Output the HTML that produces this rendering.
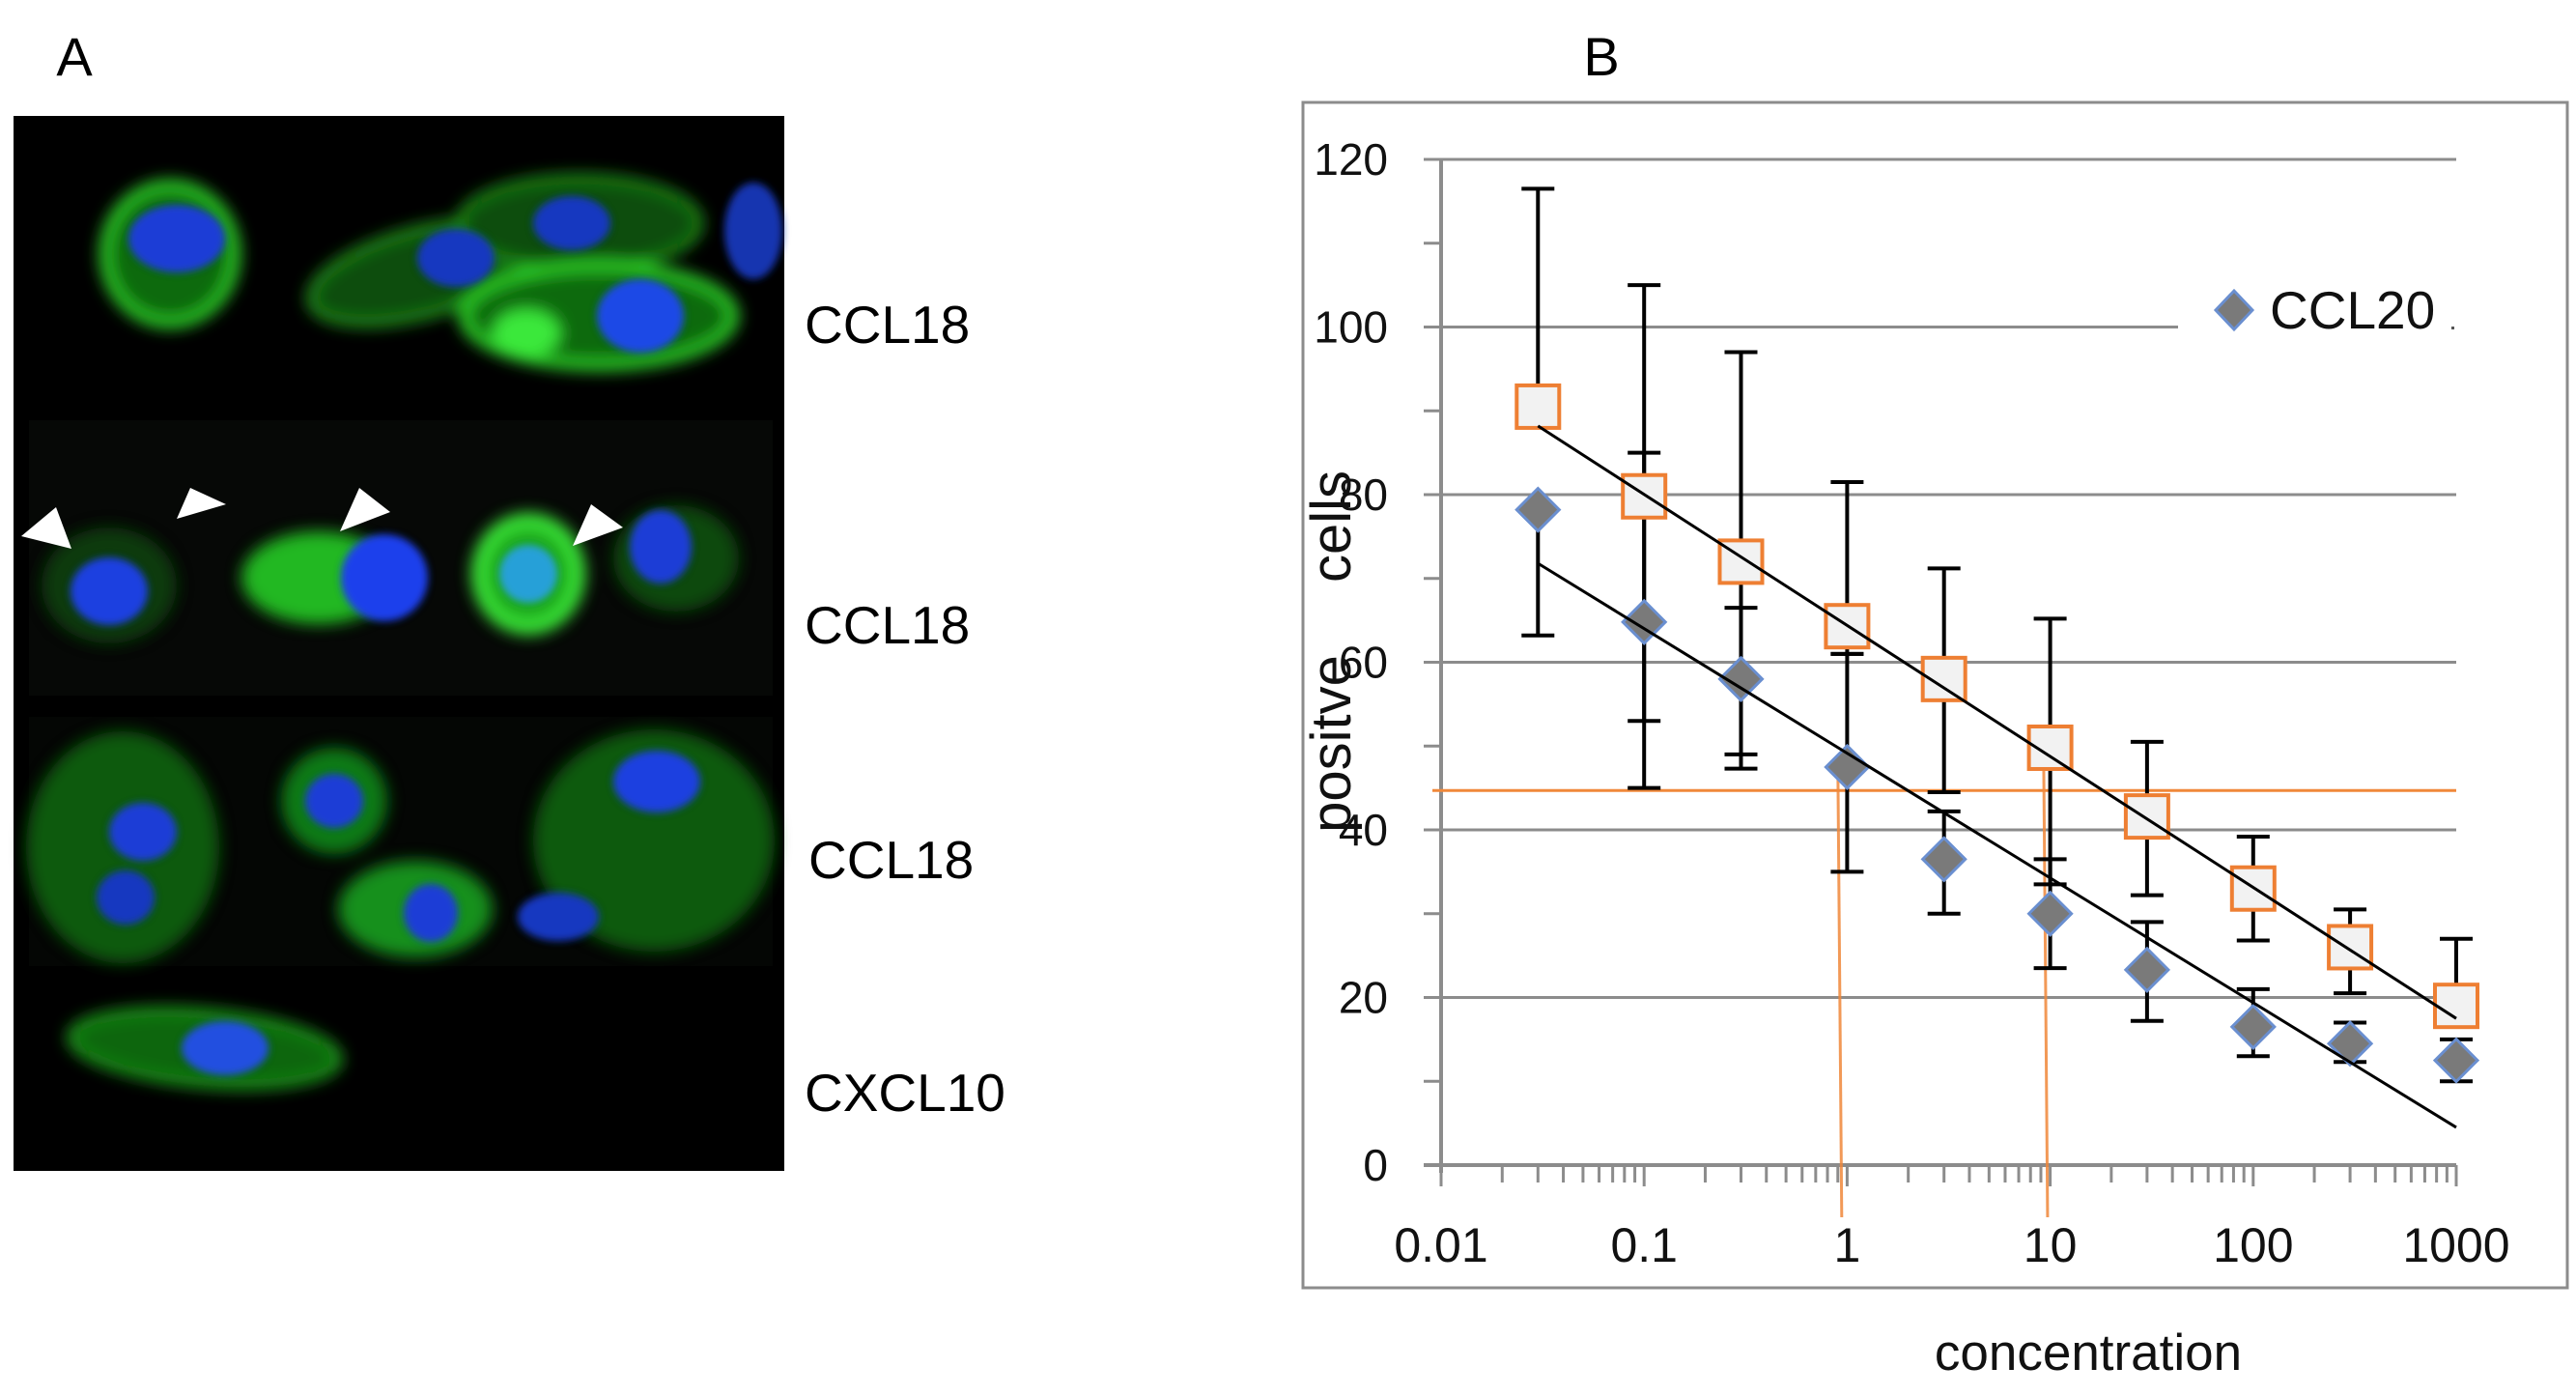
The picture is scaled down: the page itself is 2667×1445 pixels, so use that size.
<!DOCTYPE html>
<html><head><meta charset="utf-8"><style>
html,body{margin:0;padding:0;background:#fff;}
svg{display:block;font-family:"Liberation Sans",Arial,sans-serif;}
</style></head><body>
<svg id="fig" width="2667" height="1445" viewBox="0 0 2667 1445" xmlns="http://www.w3.org/2000/svg">
<defs>
<filter id="blur8" x="-50%" y="-50%" width="200%" height="200%"><feGaussianBlur stdDeviation="8"/></filter>
<filter id="blur4" x="-50%" y="-50%" width="200%" height="200%"><feGaussianBlur stdDeviation="4"/></filter>
</defs>
<text x="77" y="78" font-size="56" text-anchor="middle">A</text>
<text x="1658" y="78" font-size="56" text-anchor="middle">B</text>

<g>
<rect x="14" y="120" width="798" height="1092" fill="#000"/>
<rect x="30" y="435" width="770" height="285" fill="#060806"/>
<rect x="30" y="742" width="770" height="258" fill="#040604"/>
<g filter="url(#blur8)">
<ellipse cx="176" cy="263" rx="68" ry="72" fill="#0d6a10" stroke="#2ed82a" stroke-width="10"/>
<ellipse cx="437" cy="282" rx="120" ry="45" fill="#0b4e0c" stroke="#25a820" stroke-width="6" transform="rotate(-15 437 282)"/>
<ellipse cx="600" cy="231" rx="125" ry="48" fill="#0b4e0c" stroke="#22a01e" stroke-width="6"/>
<ellipse cx="620" cy="327" rx="140" ry="52" fill="#0e6a10" stroke="#2ed82a" stroke-width="10"/>
<ellipse cx="545" cy="345" rx="35" ry="25" fill="#3ae83a"/>
<ellipse cx="113" cy="606" rx="70" ry="60" fill="#0a3a0a"/>
<ellipse cx="330" cy="598" rx="80" ry="48" fill="#22b820"/>
<ellipse cx="547" cy="594" rx="52" ry="56" fill="#1ea81c" stroke="#3ef03a" stroke-width="14"/>
<ellipse cx="700" cy="578" rx="65" ry="55" fill="#0c4a0c"/>
<ellipse cx="127" cy="877" rx="100" ry="120" fill="#0c5a0e"/>
<ellipse cx="346" cy="829" rx="55" ry="55" fill="#117a13"/>
<ellipse cx="430" cy="941" rx="80" ry="50" fill="#14901a"/>
<ellipse cx="677" cy="870" rx="125" ry="115" fill="#0c5a0e"/>
<ellipse cx="212" cy="1085" rx="140" ry="38" fill="#0e6610" stroke="#24b020" stroke-width="6" transform="rotate(5 212 1085)"/>
</g>
<g filter="url(#blur4)">
<ellipse cx="183" cy="247" rx="50" ry="35" fill="#1c3ed6"/>
<ellipse cx="472" cy="267" rx="40" ry="30" fill="#1838c0"/>
<ellipse cx="592" cy="231" rx="40" ry="28" fill="#1838c0"/>
<ellipse cx="663" cy="327" rx="45" ry="38" fill="#1e48e6"/>
<ellipse cx="780" cy="239" rx="30" ry="50" fill="#1636b0"/>
<ellipse cx="113" cy="612" rx="40" ry="35" fill="#1e40e0"/>
<ellipse cx="398" cy="598" rx="45" ry="45" fill="#1e40ec"/>
<ellipse cx="547" cy="594" rx="30" ry="30" fill="#28a0d8"/>
<ellipse cx="684" cy="566" rx="32" ry="38" fill="#1c3ed6"/>
<ellipse cx="148" cy="861" rx="35" ry="30" fill="#1c3ed6"/>
<ellipse cx="130" cy="929" rx="30" ry="28" fill="#1838c0"/>
<ellipse cx="346" cy="829" rx="30" ry="28" fill="#1c3ed6"/>
<ellipse cx="446" cy="945" rx="28" ry="30" fill="#1c3ed6"/>
<ellipse cx="680" cy="809" rx="45" ry="32" fill="#1e40e0"/>
<ellipse cx="578" cy="949" rx="42" ry="25" fill="#1838c0"/>
<ellipse cx="233" cy="1085" rx="45" ry="28" fill="#2050e0"/>
</g>
<polygon points="22,555 58,525 74,568" fill="#fff"/>
<polygon points="183,537 197,505 234,522" fill="#fff"/>
<polygon points="352,550 372,505 404,530" fill="#fff"/>
<polygon points="593,565 612,522 645,546" fill="#fff"/>
</g>
<text x="833" y="355" font-size="55">CCL18</text>
<text x="833" y="666" font-size="55">CCL18</text>
<text x="837" y="909" font-size="55">CCL18</text>
<text x="833" y="1150" font-size="55">CXCL10</text>

<rect x="1349" y="106" width="1309" height="1227" fill="#fff" stroke="#8c8c8c" stroke-width="3"/>
<g id="chart"></g>
</svg>
<script>
const xVals = [0.03, 0.1, 0.3, 1, 3, 10, 30, 100, 300, 1000];
const squareVals = [90.5, 79.8, 72, 64.3, 58, 49.8, 41.6, 33, 26, 19];
const squareHi = [116.5, 105, 97, 81.5, 71.2, 65.2, 50.5, 39.2, 30.5, 27];
const squareLo = [90.5, 45, 49, 61, 44.5, 33.5, 32.2, 26.8, 20.5, 19];
const diamondVals = [78.2, 64.8, 58, 47.5, 36.5, 30, 23.3, 16.5, 14.5, 12.5];
const diamondHi = [78.2, 85, 66.5, 61, 42.2, 36.5, 29, 21, 17, 15];
const diamondLo = [63.2, 53, 47.3, 35, 30, 23.5, 17.2, 13, 12.3, 10];
const squareTrend = [88.2, 17.5];
const diamondTrend = [71.8, 4.5];
const trendX = [0.03, 1000];
const threshold = [44.7];
const dropX = [0.92, 9.5];
const yTicks = [0, 20, 40, 60, 80, 100, 120];
const xTicks = [0.01, 0.1, 1, 10, 100, 1000];
const xTickLabels = ["0.01", "0.1", "1", "10", "100", "1000"];

const NS = "http://www.w3.org/2000/svg";
const g = document.getElementById("chart");
const X0 = 1492, X1 = 2543, Y0 = 1206, Y1 = 165;
function sx(v){ return X0 + (Math.log10(v) + 2) / 5 * (X1 - X0); }
function sy(v){ return Y0 - v / 120 * (Y0 - Y1); }
function mk(tag, attrs, parent){
  const e = document.createElementNS(NS, tag);
  for (const k in attrs) e.setAttribute(k, attrs[k]);
  (parent || g).appendChild(e);
  return e;
}
yTicks.forEach(function(t, i){
  if (t > 0) {
    const x2 = (t === 100) ? 2255 : X1;
    const l = mk("line", {x1: X0 - 18, y1: sy(t), x2: x2, y2: sy(t), stroke: "#8c8c8c", "stroke-width": 3});
    
    
  }
  const tx = mk("text", {x: 1437, y: sy(t) + 16, "font-size": 46, "text-anchor": "end", fill: "#111"});
  tx.textContent = String(t);
  
  
  if (i < yTicks.length - 1) {
    const m = mk("line", {x1: X0 - 18, y1: sy(t + 10), x2: X0, y2: sy(t + 10), stroke: "#8c8c8c", "stroke-width": 3});
    
    
  }
});
const ya = mk("line", {x1: X0, y1: Y1, x2: X0, y2: Y0 + 8, stroke: "#8c8c8c", "stroke-width": 4});


const xa = mk("line", {x1: X0 - 18, y1: Y0, x2: X1, y2: Y0, stroke: "#8c8c8c", "stroke-width": 4});


for (let d = 0; d < 5; d++) {
  for (let k = 2; k <= 9; k++) {
    const v = Math.pow(10, d - 2) * k;
    const t = mk("line", {x1: sx(v), y1: Y0, x2: sx(v), y2: Y0 + 18, stroke: "#8c8c8c", "stroke-width": 3});
    
    
  }
}
xTicks.forEach(function(v, i){
  const t = mk("line", {x1: sx(v), y1: Y0, x2: sx(v), y2: Y0 + 22, stroke: "#8c8c8c", "stroke-width": 3});
  
  
  const tx = mk("text", {x: sx(v), y: 1306, "font-size": 50, "text-anchor": "middle", fill: "#111"});
  tx.textContent = xTickLabels[i];
  
  
});
const th = mk("line", {x1: 1483, y1: sy(threshold[0]), x2: X1, y2: sy(threshold[0]), stroke: "#f0883a", "stroke-width": 3});


dropX.forEach(function(v, i){
  const l = mk("line", {x1: sx(v) - 2, y1: 792, x2: sx(v) + 2, y2: 1260, stroke: "#f0883a", "stroke-width": 3, opacity: 0.85});
  
  
});
function errBars(hi, lo, name){
  xVals.forEach(function(v, i){
    const x = sx(v);
    const e = mk("g", {stroke: "#000", "stroke-width": 4});
    
    
    mk("line", {x1: x, y1: sy(hi[i]), x2: x, y2: sy(lo[i])}, e);
    mk("line", {x1: x - 17, y1: sy(hi[i]), x2: x + 17, y2: sy(hi[i])}, e);
    mk("line", {x1: x - 17, y1: sy(lo[i]), x2: x + 17, y2: sy(lo[i])}, e);
  });
}
errBars(squareHi, squareLo, 'square');
errBars(diamondHi, diamondLo, 'diamond');
xVals.forEach(function(v, i){
  const r = mk("rect", {x: sx(v) - 22, y: sy(squareVals[i]) - 22, width: 44, height: 44, fill: "#f2f2f2", stroke: "#ee7f33", "stroke-width": 4});
  
  
});
xVals.forEach(function(v, i){
  const x = sx(v), y = sy(diamondVals[i]);
  const p = mk("polygon", {points: (x) + "," + (y - 22) + " " + (x + 22) + "," + y + " " + x + "," + (y + 22) + " " + (x - 22) + "," + y, fill: "#7a7a7a", stroke: "#6a8fd0", "stroke-width": 3});
  
  
});
const t1 = mk("line", {x1: sx(trendX[0]), y1: sy(squareTrend[0]), x2: sx(trendX[1]), y2: sy(squareTrend[1]), stroke: "#000", "stroke-width": 3});


const t2 = mk("line", {x1: sx(trendX[0]), y1: sy(diamondTrend[0]), x2: sx(trendX[1]), y2: sy(diamondTrend[1]), stroke: "#000", "stroke-width": 3});


const lg = mk("g", {});


mk("polygon", {points: "2313,301 2332,321 2313,341 2294,321", fill: "#7a7a7a", stroke: "#6a8fd0", "stroke-width": 3}, lg);
const lt = mk("text", {x: 2350, y: 340, "font-size": 55, fill: "#111"}, lg);
lt.textContent = "CCL20";
mk("rect", {x: 2538, y: 338, width: 3, height: 3, fill: "#555"}, lg);
const xt = mk("text", {x: 2162, y: 1418, "font-size": 53, "text-anchor": "middle", fill: "#111"});
xt.textContent = "concentration";


const yt1 = mk("text", {x: 0, y: 0, "font-size": 58, "text-anchor": "middle", fill: "#111", transform: "translate(1398,545) rotate(-90)"});
yt1.textContent = "cells";


const yt2 = mk("text", {x: 0, y: 0, "font-size": 58, "text-anchor": "middle", fill: "#111", transform: "translate(1398,770) rotate(-90)"});
yt2.textContent = "positve";


</script>
</body></html>
